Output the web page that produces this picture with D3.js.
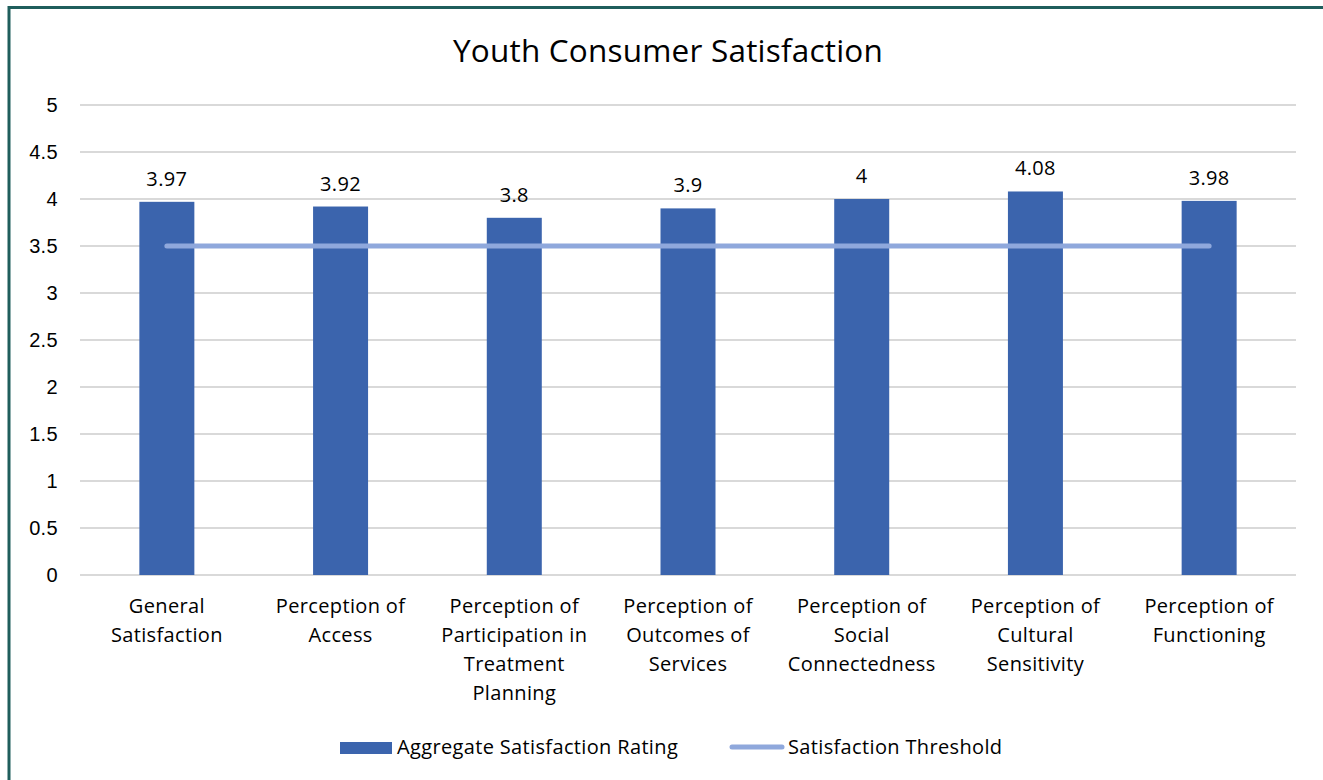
<!DOCTYPE html>
<html>
<head>
<meta charset="utf-8">
<script src="https://cdn.jsdelivr.net/npm/d3@7"></script>
<style>
  html, body { margin: 0; padding: 0; background: #fff; }
  svg { display: block; font-family: "Open Sans", Lato, "Liberation Sans", sans-serif; }
</style>
</head>
<body>
<svg id="chart" width="1323" height="780"></svg>
<script>
// Chart data
const categories = [
  ["General", "Satisfaction"],
  ["Perception of", "Access"],
  ["Perception of", "Participation in", "Treatment", "Planning"],
  ["Perception of", "Outcomes of", "Services"],
  ["Perception of", "Social", "Connectedness"],
  ["Perception of", "Cultural", "Sensitivity"],
  ["Perception of", "Functioning"]
];
const ratings = [3.97, 3.92, 3.8, 3.9, 4, 4.08, 3.98];
const threshold = [3.5, 3.5, 3.5, 3.5, 3.5, 3.5, 3.5];
const yTicks = [0, 0.5, 1, 1.5, 2, 2.5, 3, 3.5, 4, 4.5, 5];
const seriesNames = ["Aggregate Satisfaction Rating", "Satisfaction Threshold"];
const title = "Youth Consumer Satisfaction";

const svg = d3.select("#chart");
const W = 1323, H = 780;
const plot = { left: 80, right: 1296, top: 105, bottom: 575 };
const barColor = "#3B64AD";
const lineColor = "#8FA8DC";
const fs = 20;
const ls = 0.35;

// outer frame (top and left edges show)
svg.append("path")
  .attr("d", `M9,${H} L9,7.5 L${W},7.5`)
  .attr("fill", "none")
  .attr("stroke", "#1F5E5C")
  .attr("stroke-width", 3);

const idx = categories.map((d, i) => i);
const x = d3.scaleBand().domain(idx).range([plot.left, plot.right]).paddingInner(0).paddingOuter(0);
const y = d3.scaleLinear().domain([0, 5]).range([plot.bottom, plot.top]);

// title
svg.append("text")
  .attr("x", 668).attr("y", 62)
  .attr("text-anchor", "middle")
  .attr("font-size", 31.5)
  .attr("letter-spacing", 0.2)
  .attr("fill", "#000")
  .text(title);

// gridlines
svg.append("g").selectAll("line").data(yTicks).join("line")
  .attr("x1", plot.left).attr("x2", plot.right)
  .attr("y1", d => y(d)).attr("y2", d => y(d))
  .attr("stroke", "#D9D9D9").attr("stroke-width", 2);

// y axis labels
const yAxis = d3.axisLeft(y).tickValues(yTicks).tickSize(0).tickPadding(0).tickFormat(d3.format("~g"));
const yg = svg.append("g").attr("transform", `translate(58,0)`).call(yAxis);
yg.select(".domain").remove();
yg.selectAll("text").attr("font-size", fs).attr("fill", "#000").attr("font-family", null)
  .attr("letter-spacing", ls).attr("text-anchor", "end");

// bars
const barW = 55;
svg.append("g").selectAll("rect").data(ratings).join("rect")
  .attr("x", (d, i) => x(i) + x.bandwidth() / 2 - barW / 2)
  .attr("y", d => y(d))
  .attr("width", barW)
  .attr("height", d => y(0) - y(d))
  .attr("fill", barColor);

// value labels
svg.append("g").selectAll("text").data(ratings).join("text")
  .attr("x", (d, i) => x(i) + x.bandwidth() / 2)
  .attr("y", d => y(d) - 16)
  .attr("text-anchor", "middle")
  .attr("font-size", fs)
  .attr("letter-spacing", ls)
  .attr("fill", "#000")
  .text(d => d3.format("~g")(d));

// threshold line
const line = d3.line()
  .x((d, i) => x(i) + x.bandwidth() / 2)
  .y(d => y(d));
svg.append("path")
  .datum(threshold)
  .attr("d", line)
  .attr("fill", "none")
  .attr("stroke", lineColor)
  .attr("stroke-width", 5)
  .attr("stroke-linecap", "round");

// category labels
const catG = svg.append("g").selectAll("text").data(categories).join("text")
  .attr("x", (d, i) => x(i) + x.bandwidth() / 2)
  .attr("y", 613)
  .attr("text-anchor", "middle")
  .attr("font-size", fs)
  .attr("letter-spacing", ls)
  .attr("fill", "#000");
catG.selectAll("tspan").data(d => d).join("tspan")
  .attr("x", function () { return d3.select(this.parentNode).attr("x"); })
  .attr("dy", (d, j) => j === 0 ? 0 : 29)
  .text(d => d);

// legend
const lg = svg.append("g");
lg.append("rect").attr("x", 340).attr("y", 742).attr("width", 52).attr("height", 12).attr("fill", barColor);
lg.append("text").attr("x", 397).attr("y", 754).attr("font-size", fs).attr("letter-spacing", ls)
  .attr("fill", "#000").text(seriesNames[0]);
lg.append("line").attr("x1", 732).attr("x2", 782).attr("y1", 747).attr("y2", 747)
  .attr("stroke", lineColor).attr("stroke-width", 5).attr("stroke-linecap", "round");
lg.append("text").attr("x", 788).attr("y", 754).attr("font-size", fs).attr("letter-spacing", ls)
  .attr("fill", "#000").text(seriesNames[1]);
</script>
</body>
</html>
